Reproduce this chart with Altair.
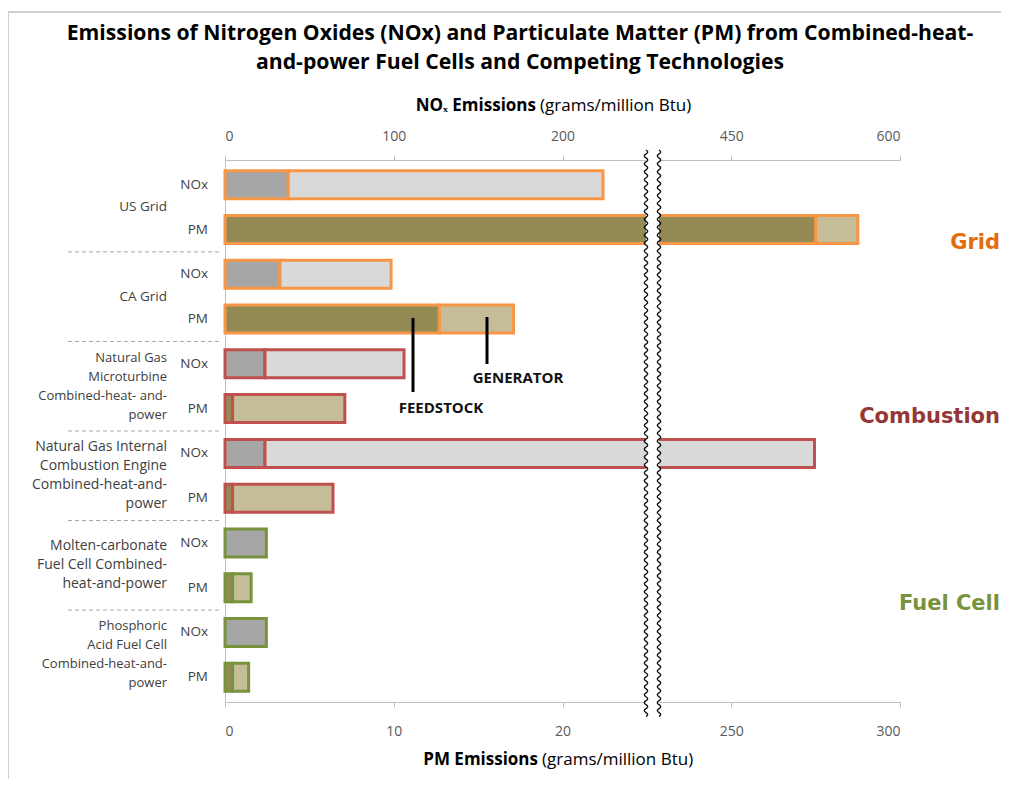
import altair as alt
import pandas as pd

FONT = "Open Sans"

# ---------------- data ----------------
categories = ["US Grid", "CA Grid",
              "Natural Gas Microturbine CHP",
              "Natural Gas Internal Combustion Engine CHP",
              "Molten-carbonate Fuel Cell CHP",
              "Phosphoric Acid Fuel Cell CHP"]
category_labels = ["US Grid",
                   "CA Grid",
                   "Natural Gas\nMicroturbine\nCombined-heat- and-\npower",
                   "Natural Gas Internal\nCombustion Engine\nCombined-heat-and-\npower",
                   "Molten-carbonate\nFuel Cell Combined-\nheat-and-power",
                   "Phosphoric\nAcid Fuel Cell\nCombined-heat-and-\npower"]
category_label_sizes = [13.5, 13.5, 13, 14, 14, 13]
tech_groups = ["Grid", "Grid", "Combustion", "Combustion", "Fuel Cell", "Fuel Cell"]

# grams / million Btu
nox_feedstock = [37.5, 32.6, 23.7, 23.7, 24.5, 24.5]
nox_generator = [186.5, 65.8, 82.4, 500.3, 0.0, 0.0]
pm_feedstock = [275.0, 12.7, 0.45, 0.45, 0.45, 0.45]
pm_generator = [12.5, 4.4, 6.65, 5.95, 1.1, 0.95]

pollutants = ["NOx", "PM"]
top_tick_labels = ["0", "100", "200", "450", "600"]
bottom_tick_labels = ["0", "10", "20", "250", "300"]

group_names = ["Grid", "Combustion", "Fuel Cell"]
group_stroke = ["#F79646", "#C0504D", "#77933C"]
group_text_color = ["#E46C0A", "#953735", "#77933C"]
segment_names = ["NOx feedstock", "NOx generator", "PM feedstock", "PM generator"]
segment_fill = ["#A6A6A6", "#D9D9D9", "#948A54", "#C4BD97"]


# broken axis: NOx 0-250 | 450-600 ; PM 0-25 | 250-300 on a common 0..4 unit scale
def u_nox(v):
    return v / 100.0 if v <= 250 else 3 + (v - 450) / 150.0


def u_pm(v):
    return v / 10.0 if v <= 25 else 3 + (v - 250) / 50.0


recs = []
for i in range(len(categories)):
    for p, fs, gen, f in [("NOx", nox_feedstock[i], nox_generator[i], u_nox),
                          ("PM", pm_feedstock[i], pm_generator[i], u_pm)]:
        row = 2 * i + (0 if p == "NOx" else 1)
        recs.append(dict(row=row, group=tech_groups[i], seg=p + " feedstock",
                         u0=f(0), u1=f(fs), value=fs))
        if gen > 0:
            recs.append(dict(row=row, group=tech_groups[i], seg=p + " generator",
                             u0=f(fs), u1=f(fs + gen), value=gen))
bars_df = pd.DataFrame(recs)

sub_df = pd.DataFrame({"row": list(range(12)),
                       "lab": [pollutants[k % 2] for k in range(12)]})
cat_df = pd.DataFrame({"row": [2 * i for i in range(6)],
                       "lab": category_labels,
                       "fs": category_label_sizes,
                       "n": [len(s.split("\n")) for s in category_labels]})
sep_df = pd.DataFrame({"row": [2, 4, 6, 8, 10]})

# ---------------- scales / axes ----------------
xscale = alt.Scale(domain=[0, 4], nice=False, zero=False)
yscale = alt.Scale(domain=list(range(12)), paddingInner=0.375, paddingOuter=0.24)
yaxis = alt.Axis(labels=False, ticks=False, title=None, domain=True,
                 domainColor="#BFBFBF", domainWidth=1, grid=False)
Y = alt.Y("row:O", scale=yscale, axis=yaxis)

top_axis = alt.Axis(orient="top", values=[0, 1, 2, 3, 4],
                    labelExpr="%s[datum.value]" % str(top_tick_labels),
                    title=None, grid=False, domainColor="#BFBFBF", tickColor="#BFBFBF",
                    tickSize=5, labelFontSize=14, labelColor="#595959", labelFont=FONT,
                    labelPadding=12)
bottom_axis = alt.Axis(orient="bottom", values=[0, 1, 2, 3, 4],
                       labelExpr="%s[datum.value]" % str(bottom_tick_labels),
                       title=None, grid=False, domainColor="#BFBFBF", tickColor="#BFBFBF",
                       tickSize=5, labelFontSize=14, labelColor="#595959", labelFont=FONT,
                       labelPadding=17)

one = pd.DataFrame({"k": [0]})

bars = alt.Chart(bars_df).mark_bar(strokeWidth=3).encode(
    x=alt.X("u0:Q", scale=xscale, axis=top_axis),
    x2="u1:Q",
    y=Y,
    fill=alt.Fill("seg:N", scale=alt.Scale(domain=segment_names, range=segment_fill), legend=None),
    stroke=alt.Stroke("group:N", scale=alt.Scale(domain=group_names, range=group_stroke), legend=None),
)

bottom_layer = alt.Chart(pd.DataFrame({"u": [0, 4]})).mark_point(opacity=0).encode(
    x=alt.X("u:Q", scale=xscale, axis=bottom_axis))

sub_labels = alt.Chart(sub_df).mark_text(align="right", baseline="middle", fontSize=13.5,
                                         color="#404040", font=FONT).encode(
    y=Y, x=alt.value(-17), text="lab:N")

LH = 19
cat_layers = []
for n in sorted(set(cat_df["n"])):
    cat_layers.append(
        alt.Chart(cat_df[cat_df["n"] == n]).mark_text(
            align="right", baseline="middle", lineHeight=LH, lineBreak="\n",
            dy=22.4 - (n - 1) * LH / 2.0, color="#404040", font=FONT).encode(
            y=Y, x=alt.value(-58), text="lab:N", size=alt.Size("fs:Q", scale=None)))

seps = alt.Chart(sep_df).mark_rule(yOffset=-22.4, strokeDash=[4, 3], color="#A6A6A6",
                                   strokeWidth=1).encode(
    y=Y, x=alt.value(-157), x2=alt.value(-3))

# break gap
gap = alt.Chart(one).mark_rect(color="white").encode(
    x=alt.value(421), x2=alt.value(434), y=alt.value(-10), y2=alt.value(556))

wave = "M0,-1"
yy = -1.0
sgn = 1
while yy < 1.0 - 1e-9:
    wave += " q%.4f,0.007 0,0.014" % (sgn * 0.012)
    yy += 0.014
    sgn = -sgn
wave_size = 566 ** 2
waves = [alt.Chart(one).mark_point(shape=wave, size=wave_size, filled=False, stroke="#111111",
                                   strokeWidth=1.4, opacity=1).encode(
    x=alt.value(xv), y=alt.value(273)) for xv in (421, 434)]


def text_layer(txt, x, y, size, bold=False, color="#000000", align="center", font=FONT):
    return alt.Chart(pd.DataFrame({"t": [txt]})).mark_text(
        align=align, baseline="middle", fontSize=size,
        fontWeight="bold" if bold else "normal", color=color, font=font).encode(
        x=alt.value(x), y=alt.value(y), text="t:N")


texts = [
    text_layer("Emissions of Nitrogen Oxides (NOx)  and Particulate Matter (PM) from Combined-heat-",
               295, -126, 21.2, True, "#000000"),
    text_layer("and-power Fuel Cells and Competing Technologies", 295, -97, 21.2, True, "#000000"),
    text_layer("NO\u2093 Emissions", 311, -54, 17, True, "#000000", "right"),
    text_layer("(grams/million Btu)", 315, -54, 17, False, "#000000", "left"),
    text_layer("PM Emissions", 313, 600, 17, True, "#000000", "right"),
    text_layer("(grams/million Btu)", 317, 600, 17, False, "#000000", "left"),
    text_layer("GENERATOR", 293, 218, 15, True, "#111111"),
    text_layer("FEEDSTOCK", 216, 248, 15, True, "#111111"),
    text_layer("Grid", 775, 83, 21, True, group_text_color[0], "right", "DejaVu Sans"),
    text_layer("Combustion", 775, 257, 21, True, group_text_color[1], "right", "DejaVu Sans"),
    text_layer("Fuel Cell", 775, 444, 21, True, group_text_color[2], "right", "DejaVu Sans"),
]

pointers = [
    alt.Chart(one).mark_rule(color="black", strokeWidth=3).encode(
        x=alt.value(188), y=alt.value(158), y2=alt.value(232)),
    alt.Chart(one).mark_rule(color="black", strokeWidth=3).encode(
        x=alt.value(262), y=alt.value(157), y2=alt.value(204)),
]

frame = [
    alt.Chart(one).mark_rule(color="#D0D0D0", strokeWidth=2).encode(
        x=alt.value(-217), x2=alt.value(776), y=alt.value(-148)),
    alt.Chart(one).mark_rule(color="#D0D0D0", strokeWidth=2).encode(
        x=alt.value(-217), y=alt.value(-148), y2=alt.value(619)),
]

chart = alt.layer(
    bars, bottom_layer, seps, sub_labels, *cat_layers, gap, *waves, *pointers, *texts, *frame
).resolve_axis(x="independent").properties(
    width=675, height=542,
    padding={"left": 217, "top": 152, "right": 101, "bottom": 77},
    autosize=alt.AutoSizeParams(type="none"),
    background="white",
).configure_view(stroke=None)

chart.save("out.html", embed_options={"renderer": "svg", "actions": False})
